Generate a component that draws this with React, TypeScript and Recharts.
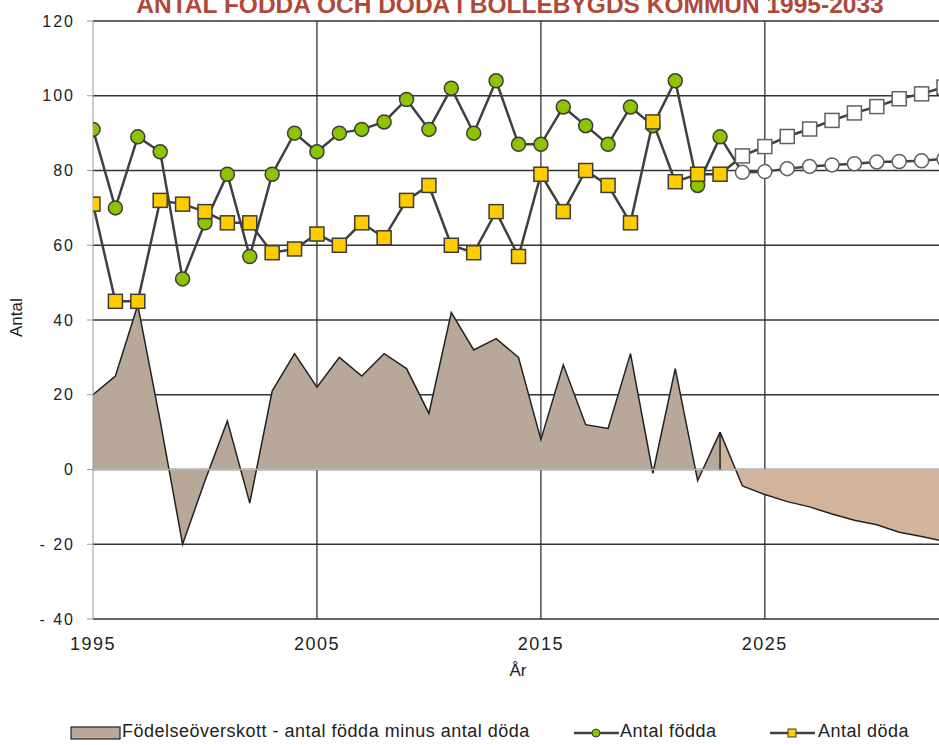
import React from 'react';
import { ComposedChart, Line, Area, XAxis, YAxis, CartesianGrid, ReferenceLine } from 'recharts';

const years = [
  1995, 1996, 1997, 1998, 1999, 2000, 2001, 2002, 2003, 2004,
  2005, 2006, 2007, 2008, 2009, 2010, 2011, 2012, 2013, 2014,
  2015, 2016, 2017, 2018, 2019, 2020, 2021, 2022, 2023, 2024,
  2025, 2026, 2027, 2028, 2029, 2030, 2031, 2032, 2033,
];

// antal födda, utfall t.o.m. 2023 och prognos därefter
const fodda = [
  91, 70, 89, 85, 51, 66, 79, 57, 79, 90,
  85, 90, 91, 93, 99, 91, 102, 90, 104, 87,
  87, 97, 92, 87, 97, 92, 104, 76, 89, 79.5,
  79.7, 80.5, 81.1, 81.5, 81.8, 82.3, 82.4, 82.6, 83.1,
];

const doda = [
  71, 45, 45, 72, 71, 69, 66, 66, 58, 59,
  63, 60, 66, 62, 72, 76, 60, 58, 69, 57,
  79, 69, 80, 76, 66, 93, 77, 79, 79, 83.9,
  86.4, 89.1, 91.1, 93.4, 95.4, 97.1, 99.2, 100.5, 102.3,
];

// födelseöverskott 1995-2023
const overskott = [
  20, 25, 44, 13, -20, -3, 13, -9, 21, 31,
  22, 30, 25, 31, 27, 15, 42, 32, 35, 30,
  8, 28, 12, 11, 31, -1, 27, -3, 10,
];

// födelseöverskott prognos 2023-2033
const overskottProg = [10, -4.4, -6.7, -8.6, -10, -11.9, -13.6, -14.8, -16.8, -17.9, -19.2];

const lastYear = 2023;
const xTicks = [1995, 2005, 2015, 2025];
const yTicks = [-40, -20, 0, 20, 40, 60, 80, 100, 120];

const data = years.map((year, i) => ({
  year,
  fodda: fodda[i],
  doda: doda[i],
  hist: year <= lastYear ? overskott[i] : null,
  prog: year >= lastYear ? overskottProg[year - lastYear] : null,
}));

const FONT = '"Liberation Sans", Arial, sans-serif';
const LINE = '#404040';

const FoddaDot = (props: any) => {
  const { cx, cy, payload, index } = props;
  const prog = payload.year > lastYear;
  return (
    <circle key={`f-${index}`} cx={cx} cy={cy} r={7}
      fill={prog ? '#ffffff' : '#8cc400'} stroke={prog ? '#606060' : '#3c3c3c'} strokeWidth={1.5} />
  );
};

const DodaDot = (props: any) => {
  const { cx, cy, payload, index } = props;
  const prog = payload.year > lastYear;
  return (
    <rect key={`d-${index}`} x={cx - 7} y={cy - 7} width={14} height={14}
      fill={prog ? '#ffffff' : '#ffcc00'} stroke={prog ? '#606060' : '#3c3c3c'} strokeWidth={1.5} />
  );
};

const yFmt = (v: number) => (v < 0 ? `- ${Math.abs(v)}` : String(v));

export default function App() {
  return (
    <div style={{ position: 'absolute', left: 0, top: 0, width: 939, height: 745, overflow: 'hidden', background: '#fff', fontFamily: FONT }}>
      <div style={{ position: 'absolute', left: 0, top: -6, width: 1020, textAlign: 'center', fontSize: 24.5, lineHeight: '22px', fontWeight: 'bold', color: '#b0483a' }}>
        ANTAL FÖDDA OCH DÖDA I BOLLEBYGDS KOMMUN 1995-2033
      </div>

      <ComposedChart width={950} height={745} data={data} margin={{ top: 21, right: 6, bottom: 86, left: 0 }}>
        <CartesianGrid stroke="#333" strokeWidth={1.3} verticalValues={[2005, 2015, 2025]} />
        <XAxis dataKey="year" type="number" domain={[1995, 2033]} ticks={xTicks} allowDataOverflow
          axisLine={false} tickLine={false} tickSize={0} tickMargin={18} height={40}
          tick={{ fill: '#222', fontSize: 18, fontFamily: FONT, letterSpacing: 1.5 }} />
        <YAxis type="number" domain={[-40, 120]} ticks={yTicks} width={93} tickFormatter={yFmt}
          axisLine={{ stroke: '#9a9a9a' }} tickLine={{ stroke: '#9a9a9a' }} tickSize={6} tickMargin={12}
          tick={{ fill: '#222', fontSize: 16, fontFamily: FONT, letterSpacing: 2 }} />
        <Area dataKey="hist" type="linear" fill="#b8a89a" fillOpacity={1} stroke="#222" strokeWidth={1.5}
          isAnimationActive={false} connectNulls={false} />
        <Area dataKey="prog" type="linear" fill="#d2b49c" fillOpacity={1} stroke="#222" strokeWidth={1.5}
          isAnimationActive={false} connectNulls={false} />
        <ReferenceLine y={0} stroke="#b8b8b8" strokeWidth={1.5} />
        <ReferenceLine segment={[{ x: lastYear, y: 0 }, { x: lastYear, y: overskottProg[0] }]} stroke="#222" strokeWidth={1.5} />
        <Line dataKey="fodda" type="linear" stroke={LINE} strokeWidth={2.5} dot={FoddaDot} isAnimationActive={false} />
        <Line dataKey="doda" type="linear" stroke={LINE} strokeWidth={2.5} dot={DodaDot} isAnimationActive={false} />
      </ComposedChart>

      <div style={{ position: 'absolute', left: 0, top: 310, width: 34, height: 20, fontSize: 17, color: '#222' }}>
        <div style={{ transform: 'rotate(-90deg)', transformOrigin: 'center', textAlign: 'center', lineHeight: '20px' }}>Antal</div>
      </div>
      <div style={{ position: 'absolute', left: 418, top: 661, width: 200, textAlign: 'center', fontSize: 17, color: '#222' }}>År</div>

      <div style={{ position: 'absolute', left: 0, top: 721, width: 939, height: 24, fontSize: 18, letterSpacing: 0.5, color: '#222' }}>
        <svg style={{ position: 'absolute', left: 70, top: 5 }} width={52} height={15}>
          <rect x={1} y={1} width={49} height={12} fill="#b8a89a" stroke="#222" strokeWidth={1.2} />
        </svg>
        <span style={{ position: 'absolute', left: 122, top: 0 }}>Födelseöverskott - antal födda minus antal döda</span>
        <svg style={{ position: 'absolute', left: 574, top: 3 }} width={45} height={18}>
          <line x1={0} y1={9} x2={45} y2={9} stroke={LINE} strokeWidth={2.5} />
          <circle cx={22} cy={9} r={4} fill="#8cc400" stroke="#3c3c3c" strokeWidth={1} />
        </svg>
        <span style={{ position: 'absolute', left: 620, top: 0 }}>Antal födda</span>
        <svg style={{ position: 'absolute', left: 770, top: 3 }} width={45} height={18}>
          <line x1={0} y1={9} x2={45} y2={9} stroke={LINE} strokeWidth={2.5} />
          <rect x={18} y={5} width={8} height={8} fill="#ffcc00" stroke="#3c3c3c" strokeWidth={1} />
        </svg>
        <span style={{ position: 'absolute', left: 818, top: 0 }}>Antal döda</span>
      </div>
    </div>
  );
}
